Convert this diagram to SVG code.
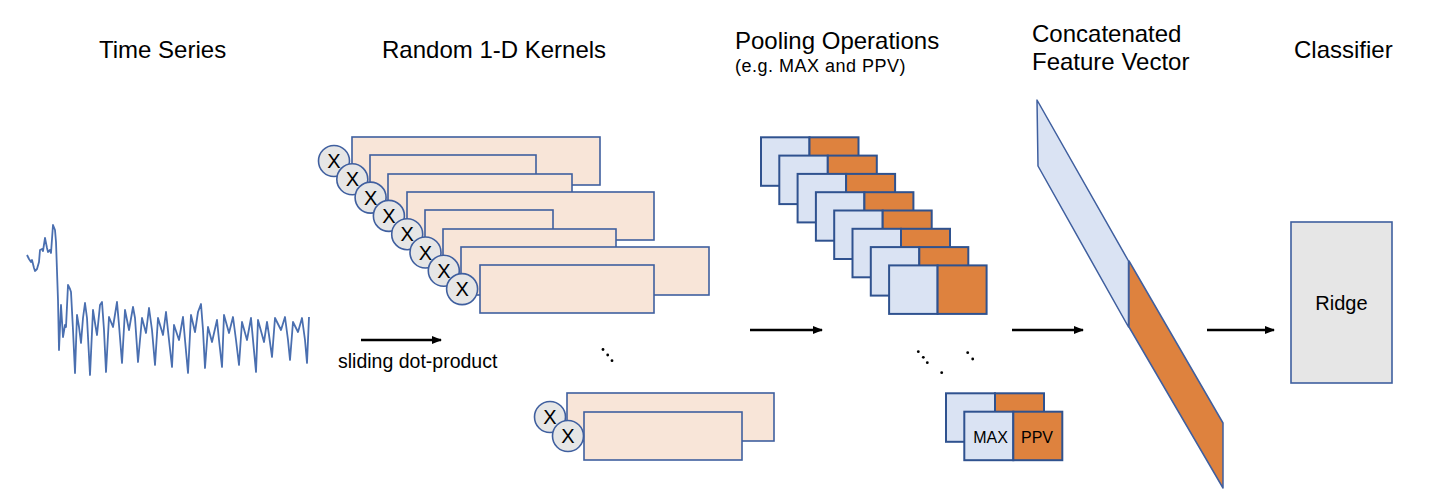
<svg xmlns="http://www.w3.org/2000/svg" width="1440" height="504" viewBox="0 0 1440 504">
<defs>
<style>
.t{font-family:"Liberation Sans",Arial,sans-serif;fill:#000}
.title{font-size:24px}
.small{font-size:19.5px}
.sub{font-size:18px;letter-spacing:0.5px}
.x{font-size:20px;text-anchor:middle}
.k{fill:#F8E5D8;stroke:#3F5F9F;stroke-width:1.6}
.c{fill:#E6E6E6;stroke:#3F5F9F;stroke-width:1.6}
.pb{fill:#DAE3F3;stroke:#2F528F;stroke-width:2}
.po{fill:#DE823E;stroke:#2F528F;stroke-width:2}
.dot{fill:#000}
.arr{stroke:#000;stroke-width:2.5;fill:none;marker-end:url(#ah)}
</style>
<marker id="ah" viewBox="0 0 10 8" refX="9" refY="4" markerWidth="4" markerHeight="3.2" markerUnits="strokeWidth" orient="auto">
<path d="M0,0 L10,4 L0,8 z" fill="#000"/>
</marker>
</defs>
<rect width="1440" height="504" fill="#fff"/>

<g id="titles">
<text class="t title" x="99" y="58">Time Series</text>
<text class="t title" x="382" y="58">Random 1-D Kernels</text>
<text class="t title" x="735" y="49">Pooling Operations</text>
<text class="t sub" x="735" y="72">(e.g. MAX and PPV)</text>
<text class="t title" x="1032" y="42">Concatenated</text>
<text class="t title" x="1032" y="70">Feature Vector</text>
<text class="t title" x="1294" y="58">Classifier</text>
</g>

<g id="time-series">
<polyline fill="none" stroke="#4A6FB0" stroke-width="1.8" stroke-linejoin="round" points="27,255 29,259 31,262 32,260 34,268 35,271 37,269 39,262 40,250 42,249 43,251 45,238 47,248 48,252 50,250 51,253 53,225 55,230 56,242 58,300 59,350 61,305 63,337 65,325 66,327 68,285 70,289 71,292 73,330 75,373 77,315 79,327 81,343 83,318 85,303 87,318 90,375 93,310 95,323 97,335 100,305 102,302 104,330 106,372 109,317 113,327 117,302 119,325 122,363 125,310 129,330 133,307 135,318 138,362 142,318 146,333 149,308 152,330 155,365 158,318 163,335 166,312 169,340 172,367 174,325 179,340 183,317 185,340 188,373 191,315 195,332 198,312 201,304 203,330 205,368 208,327 212,342 217,320 219,340 222,367 224,315 229,333 233,317 236,340 239,365 242,322 247,340 251,318 253,340 256,372 258,320 264,342 267,322 269,335 272,357 275,318 281,330 285,317 288,340 290,360 293,322 298,332 302,318 305,340 307,363 309,317"/>
</g>

<g id="kernels">
<rect class="k" x="352" y="137" width="248" height="48"/>
<g><circle class="c" cx="334" cy="161" r="15.5"/><text class="t x" x="334" y="168">X</text></g>
<rect class="k" x="370" y="155" width="166" height="48"/>
<g><circle class="c" cx="352.3" cy="179.3" r="15.5"/><text class="t x" x="352.3" y="186.3">X</text></g>
<rect class="k" x="388" y="174" width="184" height="48"/>
<g><circle class="c" cx="370.6" cy="197.6" r="15.5"/><text class="t x" x="370.6" y="204.6">X</text></g>
<rect class="k" x="407" y="192" width="247" height="48"/>
<g><circle class="c" cx="388.9" cy="215.9" r="15.5"/><text class="t x" x="388.9" y="222.9">X</text></g>
<rect class="k" x="425" y="210" width="128" height="48"/>
<g><circle class="c" cx="407.2" cy="234.2" r="15.5"/><text class="t x" x="407.2" y="241.2">X</text></g>
<rect class="k" x="443" y="229" width="173" height="48"/>
<g><circle class="c" cx="425.5" cy="252.5" r="15.5"/><text class="t x" x="425.5" y="259.5">X</text></g>
<rect class="k" x="461" y="247" width="248" height="48"/>
<g><circle class="c" cx="443.8" cy="270.8" r="15.5"/><text class="t x" x="443.8" y="277.8">X</text></g>
<rect class="k" x="480" y="265" width="174" height="48"/>
<g><circle class="c" cx="462.1" cy="289.1" r="15.5"/><text class="t x" x="462.1" y="296.1">X</text></g>
</g>

<g id="kernel-dots">
<circle class="dot" cx="603" cy="349.5" r="1.4"/>
<circle class="dot" cx="607.7" cy="355" r="1.4"/>
<circle class="dot" cx="612" cy="360.7" r="1.4"/>
</g>

<g id="kernels-last">
<rect class="k" x="567" y="393" width="207" height="48"/>
<g><circle class="c" cx="550" cy="417" r="15.5"/><text class="t x" x="550" y="424">X</text></g>
<rect class="k" x="584" y="412" width="158" height="48"/>
<g><circle class="c" cx="568" cy="436" r="15.5"/><text class="t x" x="568" y="443">X</text></g>
</g>

<g id="pooling">
<rect class="pb" x="761" y="137.3" width="48.5" height="48.5"/><rect class="po" x="809.5" y="137.3" width="49" height="48.5"/>
<rect class="pb" x="779.3" y="155.6" width="48.5" height="48.5"/><rect class="po" x="827.8" y="155.6" width="49" height="48.5"/>
<rect class="pb" x="797.6" y="173.9" width="48.5" height="48.5"/><rect class="po" x="846.1" y="173.9" width="49" height="48.5"/>
<rect class="pb" x="815.9" y="192.2" width="48.5" height="48.5"/><rect class="po" x="864.4" y="192.2" width="49" height="48.5"/>
<rect class="pb" x="834.2" y="210.5" width="48.5" height="48.5"/><rect class="po" x="882.7" y="210.5" width="49" height="48.5"/>
<rect class="pb" x="852.5" y="228.8" width="48.5" height="48.5"/><rect class="po" x="901" y="228.8" width="49" height="48.5"/>
<rect class="pb" x="870.8" y="247.1" width="48.5" height="48.5"/><rect class="po" x="919.3" y="247.1" width="49" height="48.5"/>
<rect class="pb" x="889.1" y="265.4" width="48.5" height="48.5"/><rect class="po" x="937.6" y="265.4" width="49" height="48.5"/>
</g>

<g id="pooling-dots">
<circle class="dot" cx="918.3" cy="351.7" r="1.4"/>
<circle class="dot" cx="923.3" cy="357.3" r="1.4"/>
<circle class="dot" cx="927.3" cy="362.7" r="1.4"/>
<circle class="dot" cx="941.7" cy="372.7" r="1.4"/>
<circle class="dot" cx="967.7" cy="352.7" r="1.4"/>
<circle class="dot" cx="972.7" cy="359" r="1.4"/>
</g>

<g id="pooling-last">
<rect class="pb" x="946" y="393.3" width="49" height="48.5"/><rect class="po" x="995" y="393.3" width="49" height="48.5"/>
<rect class="pb" x="964.3" y="411.7" width="49" height="48.5"/><rect class="po" x="1013.3" y="411.7" width="49" height="48.5"/>
<text class="t" x="990.5" y="443" font-size="16" text-anchor="middle">MAX</text>
<text class="t" x="1037" y="443" font-size="16" text-anchor="middle">PPV</text>
</g>

<g id="feature-vector">
<polygon points="1037,100 1128.5,261 1128.5,327 1038,166" fill="#DAE3F3" stroke="#3F5F9F" stroke-width="1.5" stroke-linejoin="round"/>
<polygon points="1129,261 1223,423 1223,488 1129,327" fill="#DE823E" stroke="#3F5F9F" stroke-width="1.5" stroke-linejoin="round"/>
</g>

<g id="classifier">
<rect x="1291" y="222" width="101" height="161" fill="#E6E6E6" stroke="#3F5F9F" stroke-width="1.6"/>
<text class="t" x="1341.5" y="310" font-size="20" text-anchor="middle">Ridge</text>
</g>

<g id="connectors">
<line class="arr" x1="361" y1="340" x2="441" y2="340"/>
<line class="arr" x1="750" y1="330" x2="822" y2="330"/>
<line class="arr" x1="1012" y1="330" x2="1083" y2="330"/>
<line class="arr" x1="1207" y1="330" x2="1274" y2="330"/>
<text class="t small" x="338" y="368">sliding dot-product</text>
</g>
</svg>
